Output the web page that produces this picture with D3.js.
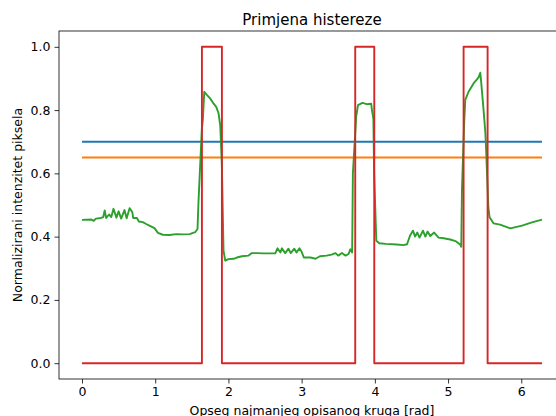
<!DOCTYPE html>
<html>
<head>
<meta charset="utf-8">
<script src="https://cdn.jsdelivr.net/npm/d3@7"></script>
<style>
  body { margin: 0; background: #fff; }
  svg { display: block; font-family: "DejaVu Sans", sans-serif; }
</style>
</head>
<body>
<svg class="chart" width="556" height="416"></svg>
<script>
var xTicks = [0, 1, 2, 3, 4, 5, 6];
var yTicks = [0.0, 0.2, 0.4, 0.6, 0.8, 1.0];

// thresholds of the hysteresis
var highThreshold = 0.7;
var lowThreshold = 0.65;
var angleMax = 6.283;

// normalized pixel intensity along the circle
var greenX = [0, 0.13, 0.16, 0.19, 0.26, 0.29, 0.31, 0.33, 0.37, 0.40, 0.43, 0.47, 0.50, 0.535, 0.58, 0.61, 0.65, 0.686, 0.70, 0.75, 0.777, 0.83, 0.877, 0.92, 0.99, 1.037, 1.105, 1.195, 1.287, 1.378, 1.47, 1.546, 1.578, 1.59, 1.637, 1.65, 1.67, 1.705, 1.75, 1.796, 1.833, 1.865, 1.888, 1.91, 1.933, 1.956, 2.0, 2.07, 2.116, 2.184, 2.275, 2.32, 2.39, 2.48, 2.64, 2.67, 2.71, 2.73, 2.776, 2.82, 2.85, 2.90, 2.93, 2.97, 3.0, 3.03, 3.12, 3.19, 3.25, 3.34, 3.41, 3.46, 3.50, 3.55, 3.60, 3.64, 3.665, 3.69, 3.70, 3.735, 3.745, 3.77, 3.83, 3.89, 3.95, 3.96, 3.98, 3.99, 4.02, 4.06, 4.15, 4.30, 4.39, 4.44, 4.48, 4.52, 4.55, 4.58, 4.61, 4.657, 4.69, 4.72, 4.757, 4.81, 4.87, 4.94, 5.03, 5.10, 5.166, 5.18, 5.19, 5.22, 5.235, 5.28, 5.35, 5.395, 5.42, 5.44, 5.45, 5.485, 5.51, 5.52, 5.55, 5.567, 5.62, 5.71, 5.85, 6.01, 6.146, 6.283];
var greenY = [0.453, 0.454, 0.450, 0.457, 0.459, 0.462, 0.483, 0.459, 0.470, 0.462, 0.488, 0.460, 0.480, 0.457, 0.484, 0.458, 0.490, 0.478, 0.459, 0.459, 0.448, 0.446, 0.440, 0.435, 0.427, 0.412, 0.406, 0.405, 0.408, 0.407, 0.408, 0.414, 0.424, 0.504, 0.740, 0.768, 0.858, 0.848, 0.837, 0.821, 0.810, 0.790, 0.752, 0.630, 0.356, 0.324, 0.329, 0.330, 0.334, 0.338, 0.340, 0.348, 0.348, 0.347, 0.347, 0.363, 0.350, 0.363, 0.348, 0.362, 0.348, 0.362, 0.350, 0.363, 0.352, 0.334, 0.334, 0.330, 0.338, 0.340, 0.343, 0.348, 0.340, 0.348, 0.340, 0.345, 0.360, 0.350, 0.600, 0.740, 0.780, 0.816, 0.823, 0.819, 0.820, 0.800, 0.773, 0.600, 0.387, 0.379, 0.377, 0.375, 0.373, 0.376, 0.403, 0.419, 0.400, 0.413, 0.397, 0.419, 0.400, 0.416, 0.402, 0.413, 0.397, 0.395, 0.391, 0.386, 0.375, 0.368, 0.550, 0.760, 0.832, 0.858, 0.885, 0.897, 0.905, 0.918, 0.895, 0.800, 0.726, 0.673, 0.493, 0.461, 0.442, 0.438, 0.426, 0.435, 0.445, 0.454];

// hysteresis output (step edges)
var redX = [0, 1.638, 1.638, 1.911, 1.911, 3.732, 3.732, 3.992, 3.992, 5.212, 5.212, 5.54, 5.54, 6.283];
var redY = [0, 0, 1, 1, 0, 0, 1, 1, 0, 0, 1, 1, 0, 0];

var svg = d3.select(".chart");
var padLeft = 59, padRight = 565, padTop = 31, padBottom = 379;

var xScale = d3.scaleLinear().domain([-0.05 * angleMax, angleMax * 1.05]).range([padLeft, padRight]);
var yScale = d3.scaleLinear().domain([-0.05, 1.05]).range([padBottom, padTop]);

var line = d3.line().x(function(d) { return xScale(d[0]); }).y(function(d) { return yScale(d[1]); });

var plot = svg.append("g");
function addLine(xs, ys, colour) {
  plot.append("path")
    .datum(xs.map(function(x, i) { return [x, ys[i]]; }))
    .attr("d", line)
    .attr("fill", "none")
    .attr("stroke", colour)
    .attr("stroke-width", 1.9)
    .attr("stroke-linejoin", "round")
    .attr("stroke-linecap", "butt");
}
addLine([0, angleMax], [highThreshold, highThreshold], "#1f77b4");
addLine([0, angleMax], [lowThreshold, lowThreshold], "#ff7f0e");
addLine(greenX, greenY, "#2ca02c");
addLine(redX, redY, "#d62728");

// axes
var xAxis = svg.append("g").attr("transform", "translate(0," + padBottom + ")")
  .call(d3.axisBottom(xScale).tickValues(xTicks).tickFormat(d3.format("d")).tickSizeOuter(0).tickSize(4.5).tickPadding(4));
var yAxis = svg.append("g").attr("transform", "translate(" + padLeft + ",0)")
  .call(d3.axisLeft(yScale).tickValues(yTicks).tickFormat(d3.format(".1f")).tickSizeOuter(0).tickSize(4.5).tickPadding(4));
[xAxis, yAxis].forEach(function(a) {
  a.selectAll("text").attr("fill", "#000").style("font-size", "12.5px").style("font-family", "DejaVu Sans");
  a.selectAll("line").attr("stroke", "#000").attr("stroke-width", 0.8);
  a.select(".domain").remove();
});

// spines
svg.append("rect")
  .attr("x", padLeft).attr("y", padTop)
  .attr("width", padRight - padLeft).attr("height", padBottom - padTop)
  .attr("fill", "none").attr("stroke", "#000").attr("stroke-width", 0.8);

svg.append("text")
  .attr("x", (padLeft + padRight) / 2).attr("y", 25)
  .attr("text-anchor", "middle")
  .style("font-size", "15px")
  .text("Primjena histereze");

svg.append("text")
  .attr("x", (padLeft + padRight) / 2).attr("y", 415)
  .attr("text-anchor", "middle")
  .style("font-size", "12.5px")
  .text("Opseg najmanjeg opisanog kruga [rad]");

svg.append("text")
  .attr("transform", "translate(22," + (padTop + padBottom) / 2 + ") rotate(-90)")
  .attr("text-anchor", "middle")
  .style("font-size", "12.5px")
  .text("Normalizirani intenzitet piksela");
</script>
</body>
</html>
